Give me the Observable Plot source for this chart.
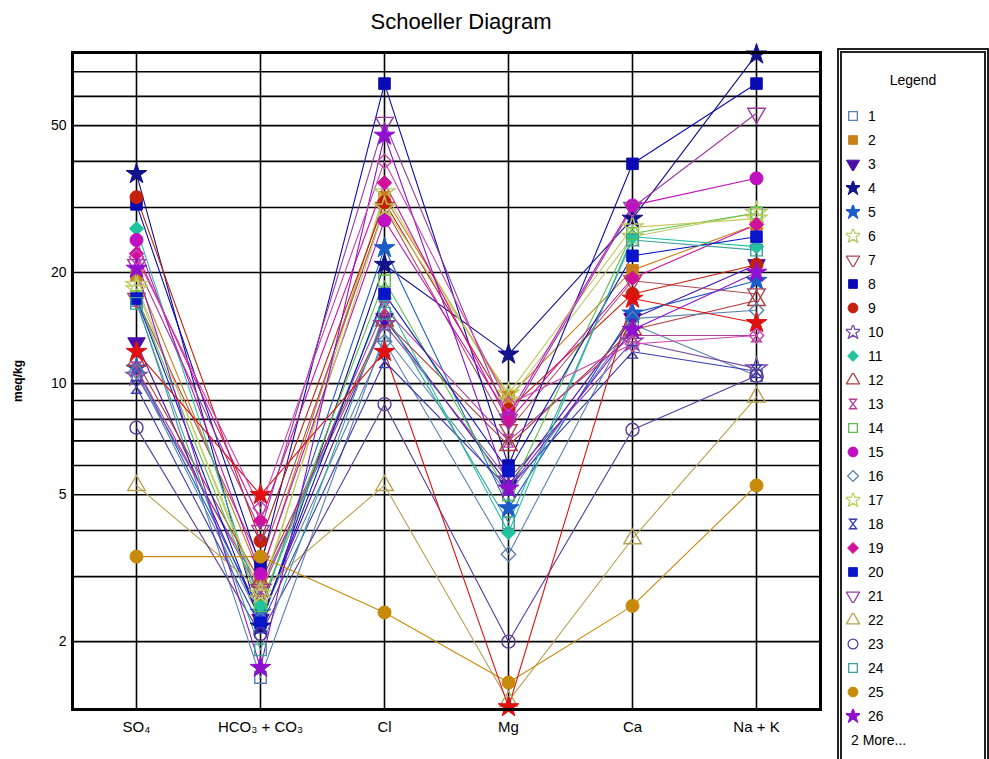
<!DOCTYPE html>
<html>
<head>
<meta charset="utf-8">
<script src="https://cdn.jsdelivr.net/npm/d3@7"></script>
<script src="https://cdn.jsdelivr.net/npm/@observablehq/plot@0.6"></script>
<style>
  html, body { margin: 0; padding: 0; background: #fff; }
  #page { position: relative; width: 989px; height: 759px; overflow: hidden; font-family: "Liberation Sans", Arial, sans-serif; }
  #title { position: absolute; left: 311px; width: 300px; top: 10px; text-align: center; font-size: 22px; line-height: 24px; color: #000; }
  #chart { position: absolute; left: 0; top: 40px; }
  #legend { position: absolute; left: 837px; top: 48px; width: 142px; height: 720px; border: 5px double #222; }
  #legend .ttl { position: absolute; left: 0; width: 100%; top: 19px; text-align: center; font-size: 14px; }
  #legend .item { position: absolute; left: 4px; height: 20px; font-size: 14px; line-height: 20px; white-space: nowrap; }
  #legend .item svg { position: absolute; left: 0; top: 3px; }
  #legend .item span { position: absolute; left: 22px; top: 0; }
</style>
</head>
<body>
<div id="page">
  <div id="title">Schoeller Diagram</div>
  <div id="chart"></div>
  <div id="legend"><div class="ttl">Legend</div></div>
</div>
<script>
// ---- data ----
const ions = ["SO₄", "HCO₃ + CO₃", "Cl", "Mg", "Ca", "Na + K"];
const yTicks = [2, 5, 10, 20, 50];
const gridValues = [2, 3, 4, 5, 6, 7, 8, 9, 10, 20, 30, 40, 50, 60, 70];
const sampleIds = ["1","2","3","4","5","6","7","8","9","10","11","12","13","14","15","16","17","18","19","20","21","22","23","24","25","26","27","28"];
const legendCount = 26;
const moreLabel = "2 More...";

// values (meq/kg) per sample in ion order
const sampleValues = [
  [16.8, 1.6, 13.5, 5.0, 14.5, 10.5],
  [19.6, 3.0, 32, 9.2, 20.3, 27],
  [12.9, 2.3, 15, 5.3, 15, 21],
  [37, 2.2, 21, 12, 28, 78],
  [11, 2.4, 23.3, 4.6, 15.5, 19],
  [18.5, 2.6, 33, 9.0, 25, 29],
  [17, 3.3, 30, 7.5, 19, 17.5],
  [30.6, 3.2, 65, 6.0, 39.4, 65],
  [32, 3.75, 31, 8.5, 17.5, 21],
  [10.5, 2.8, 14.5, 5.5, 13, 11],
  [26.3, 2.5, 17, 3.95, 25, 23.5],
  [11.5, 2.9, 14.8, 6.8, 14, 16.8],
  [11, 2.7, 16, 7, 13.5, 13.5],
  [17.2, 2.5, 19, 5.0, 25.5, 29],
  [24.5, 3.05, 27.7, 8.2, 30.4, 36],
  [10.8, 2.3, 13, 3.45, 15, 15.8],
  [18, 2.7, 30, 9.4, 26.5, 28],
  [9.8, 2.2, 11.5, 5.2, 12.2, 10.8],
  [22.5, 4.25, 35, 7.9, 19.3, 27],
  [17, 2.25, 17.5, 5.8, 22.2, 25],
  [21, 4.0, 51, 8.0, 30, 54],
  [5.3, 2.75, 5.3, 1.38, 3.8, 9.2],
  [7.6, 2.1, 8.8, 2.0, 7.5, 10.5],
  [16.5, 1.9, 15.5, 4.2, 24.5, 23],
  [3.4, 3.4, 2.4, 1.55, 2.5, 5.3],
  [20.5, 1.7, 47, 5.2, 14, 20],
  [12.2, 5.0, 12.2, 1.33, 17, 14.6],
  [22, 4.6, 40, 8.8, 12.8, 13.5]
];

// ---- styles ----
const sampleColors = ["#5a7fb0","#c87f1a","#4b0fa8","#12128c","#1a5cc8","#b9c96a","#b04a5a","#0a0ab4","#c4200a","#7a4aa8",
  "#22c4a0","#b03a3a","#b0409a","#5cc04a","#c010c0","#5a80b0","#c0cc5a","#3a3ab0","#d0109a","#0a14c8",
  "#9a3aa0","#b8a050","#5a3a9a","#3aa0a0","#c88a0a","#9010d0","#e01010","#d040b0"];
const sampleShapes = ["square","square","tridown","star","star","star","tridown","square","circle","star",
  "diamond","triangle","hourglass","square","circle","diamond","star","hourglass","diamond","square",
  "tridown","triangle","circle","square","circle","star","star","diamond"];
const sampleFilled = [false,true,true,true,true,false,false,true,true,false,
  true,false,false,false,true,false,false,false,true,true,
  false,false,false,false,true,true,true,false];

const triDown = {draw(ctx, size) {
  const y = -Math.sqrt(size / (Math.sqrt(3) * 3)), s3 = Math.sqrt(3);
  ctx.moveTo(0, -y * 2); ctx.lineTo(-s3 * y, y); ctx.lineTo(s3 * y, y); ctx.closePath();
}};
const hourglass = {draw(ctx, size) {
  const w = Math.sqrt(size) * 0.42, h = Math.sqrt(size) * 0.55;
  ctx.moveTo(-w, -h); ctx.lineTo(w, -h); ctx.lineTo(-w, h); ctx.lineTo(w, h); ctx.closePath();
}};
function symbolFor(shape) {
  switch (shape) {
    case "tridown": return triDown;
    case "hourglass": return hourglass;
    case "diamond": return "diamond2";
    case "triangle": return "triangle";
    case "star": return "star";
    case "circle": return "circle";
    default: return "square";
  }
}
function d3SymbolFor(shape) {
  switch (shape) {
    case "tridown": return triDown;
    case "hourglass": return hourglass;
    case "diamond": return d3.symbolDiamond2;
    case "triangle": return d3.symbolTriangle;
    case "star": return d3.symbolStar;
    case "circle": return d3.symbolCircle;
    default: return d3.symbolSquare;
  }
}

// ---- build table ----
const rows = [];
sampleIds.forEach((id, i) => {
  ions.forEach((ion, j) => rows.push({sample: id, idx: i, ion, value: sampleValues[i][j]}));
});

const marks = [
  Plot.ruleY(gridValues, {stroke: "#000", strokeWidth: 1.6}),
  Plot.ruleX(ions, {stroke: "#000", strokeWidth: 1.6}),
  Plot.axisY(yTicks, {tickSize: 0, tickPadding: 6, fontSize: 14, label: null, tickFormat: d => String(d)}),
  Plot.axisX(ions, {tickSize: 0, tickPadding: 12, fontSize: 15, label: null}),
  Plot.text(["meq/kg"], {frameAnchor: "left", dx: -54, rotate: -90, textAnchor: "middle", fontSize: 12, fontWeight: "bold"})
];
sampleIds.forEach((id, i) => {
  const data = rows.filter(r => r.idx === i);
  marks.push(Plot.line(data, {x: "ion", y: "value", stroke: sampleColors[i], strokeWidth: 1.1}));
});
sampleIds.forEach((id, i) => {
  const data = rows.filter(r => r.idx === i);
  const filled = sampleFilled[i];
  marks.push(Plot.dot(data, {
    x: "ion", y: "value", r: 6.5,
    symbol: symbolFor(sampleShapes[i]),
    fill: filled ? sampleColors[i] : "none",
    stroke: sampleColors[i], strokeWidth: filled ? 1 : 1.4
  }));
});
marks.push(Plot.frame({stroke: "#000", strokeWidth: 3}));

const chart = Plot.plot({
  width: 835, height: 719,
  marginTop: 12, marginBottom: 50, marginLeft: 72, marginRight: 15,
  style: {fontFamily: "'Liberation Sans', Arial, sans-serif", color: "#000", background: "transparent"},
  x: {type: "point", domain: ions, padding: 0.5},
  y: {type: "log", domain: [1.31, 78.9]},
  marks
});
document.getElementById("chart").appendChild(chart);

// ---- legend ----
const legend = document.getElementById("legend");
for (let i = 0; i < legendCount; i++) {
  const item = document.createElement("div");
  item.className = "item";
  item.style.top = (116 - 48 - 5 - 10 + 24 * i) + "px";
  const svg = d3.create("svg").attr("width", 14).attr("height", 14);
  const filled = sampleFilled[i];
  svg.append("path")
    .attr("transform", "translate(7,7)")
    .attr("d", d3.symbol(d3SymbolFor(sampleShapes[i]), 75)())
    .attr("fill", filled ? sampleColors[i] : "none")
    .attr("stroke", sampleColors[i])
    .attr("stroke-width", filled ? 1 : 1.3);
  item.appendChild(svg.node());
  const sp = document.createElement("span");
  sp.textContent = sampleIds[i];
  item.appendChild(sp);
  legend.appendChild(item);
}
const more = document.createElement("div");
more.className = "item";
more.style.top = (116 - 48 - 5 - 10 + 24 * legendCount) + "px";
more.style.left = "9px";
more.textContent = moreLabel;
legend.appendChild(more);
</script>
</body>
</html>
